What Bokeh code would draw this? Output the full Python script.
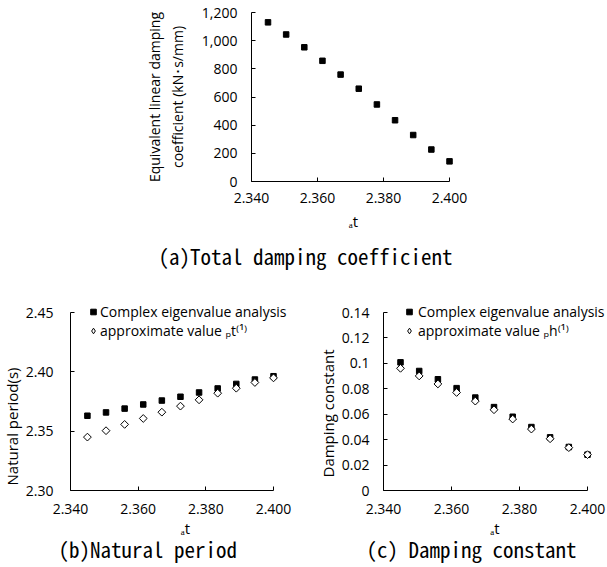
import math
from bokeh.plotting import figure
from bokeh.layouts import column, row
from bokeh.models import FixedTicker, Legend, LegendItem, Title, Range1d
from bokeh.embed import file_html
from bokeh.resources import INLINE

# ---------------- data ----------------
at_values = [2.345, 2.3505, 2.356, 2.3615, 2.367, 2.3725, 2.378, 2.3835, 2.389, 2.3945, 2.400]
total_damping = [1130, 1044, 953, 857, 759, 659, 547, 435, 330, 227, 143]
period_complex = [2.363, 2.3658, 2.369, 2.3725, 2.3758, 2.379, 2.3826, 2.386, 2.3898, 2.3935, 2.3963]
period_approx = [2.345, 2.3504, 2.3557, 2.3607, 2.366, 2.3711, 2.3764, 2.382, 2.3862, 2.391, 2.3949]
damping_complex = [0.1008, 0.0940, 0.0875, 0.0805, 0.0731, 0.0656, 0.0580, 0.0499, 0.0418, 0.0342, 0.0282]
damping_approx = [0.0961, 0.0901, 0.0838, 0.0771, 0.0703, 0.0635, 0.0562, 0.0483, 0.0407, 0.0337, 0.0282]

x_ticks = [2.34, 2.36, 2.38, 2.40]
x_tick_labels = ["2.340", "2.360", "2.380", "2.400"]
a_ticks = [0, 200, 400, 600, 800, 1000, 1200]
a_tick_labels = ["0", "200", "400", "600", "800", "1,000", "1,200"]
b_ticks = [2.30, 2.35, 2.40, 2.45]
b_tick_labels = ["2.30", "2.35", "2.40", "2.45"]
c_ticks = [0, 0.02, 0.04, 0.06, 0.08, 0.10, 0.12, 0.14]
c_tick_labels = ["0", "0.02", "0.04", "0.06", "0.08", "0.1", "0.12", "0.14"]

label_complex = "Complex eigenvalue analysis"
label_approx_t = "approximate value \u209at\u207d\u00b9\u207e"
label_approx_h = "approximate value \u209ah\u207d\u00b9\u207e"
x_label = "\u2090t"

FONT = "Open Sans"
TFONT = "Noto Sans Mono CJK JP"


def padded(lo, hi, axis_px, pad_px):
    # extend range end by pad_px pixels (axis line itself is bounded to lo..hi)
    return Range1d(lo, hi + (hi - lo) * pad_px / axis_px)


def style(p, yticks, ylabels, tick_standoff_x, axis_standoff_x, ytick_standoff):
    p.outline_line_color = None
    p.xgrid.grid_line_color = None
    p.ygrid.grid_line_color = None
    p.background_fill_color = None
    p.border_fill_color = None
    for ax in (p.xaxis[0], p.yaxis[0]):
        ax.axis_line_color = "black"
        ax.axis_line_width = 1
        ax.major_tick_line_color = "black"
        ax.major_tick_in = 4
        ax.major_tick_out = 0
        ax.minor_tick_line_color = None
        ax.major_label_text_font = FONT
        ax.major_label_text_font_size = "14px"
        ax.major_label_text_color = "black"
        ax.axis_label_text_font = FONT
        ax.axis_label_text_font_size = "15px"
        ax.axis_label_text_font_style = "normal"
        ax.axis_label_text_color = "black"
    xa = p.xaxis[0]
    xa.ticker = FixedTicker(ticks=x_ticks)
    xa.major_label_overrides = dict(zip(x_ticks, x_tick_labels))
    xa.bounds = (x_ticks[0], x_ticks[-1])
    xa.axis_label = x_label
    xa.major_label_standoff = tick_standoff_x
    xa.axis_label_standoff = axis_standoff_x
    ya = p.yaxis[0]
    ya.ticker = FixedTicker(ticks=yticks)
    ya.major_label_overrides = dict(zip(yticks, ylabels))
    ya.bounds = (yticks[0], yticks[-1])
    ya.major_label_standoff = ytick_standoff


def add_title(p, text, offset, standoff):
    t = Title(text=text, align="left", vertical_align="top", offset=offset, standoff=standoff,
              text_font=TFONT, text_font_size="21px", text_font_style="normal",
              text_color="black")
    p.add_layout(t, "below")


def add_ylabel(p, text, offset, standoff):
    t = Title(text=text, align="left", vertical_align="middle", offset=offset, standoff=standoff,
              text_font=FONT, text_font_size="15px", text_font_style="normal",
              text_color="black")
    p.add_layout(t, "left")


# ---------------- (a) ----------------
pa = figure(width=607, height=279, output_backend="svg", toolbar_location=None,
            x_range=padded(2.34, 2.40, 198, 6), y_range=Range1d(0, 1200),
            min_border_left=251, min_border_right=152, min_border_top=12, min_border_bottom=96)
pa.scatter(at_values, total_damping, marker="square", size=5.5, fill_color="black", line_color="black")
style(pa, a_ticks, a_tick_labels, 11, 5, 14)
pa.yaxis[0].axis_label = "Equivalent linear damping\ncoefficient (kN\uff65s/mm)"
pa.yaxis[0].axis_label_text_font_size = "14px"
pa.yaxis[0].axis_label_standoff = 12
add_title(pa, "(a)Total damping coefficient", -93, 14)

# ---------------- (b) ----------------
pb = figure(width=312, height=288, output_backend="svg", toolbar_location=None,
            x_range=padded(2.34, 2.40, 203, 27), y_range=padded(2.30, 2.45, 178, 12),
            min_border_left=70, min_border_right=12, min_border_top=21, min_border_bottom=77)
rb1 = pb.scatter(at_values, period_complex, marker="square", size=5.5, fill_color="black", line_color="black")
rb2 = pb.scatter(at_values, period_approx, marker="square", angle=math.pi / 4, size=5.5,
                 fill_color="white", line_color="black", line_width=1)
rb3 = pb.scatter(at_values, period_approx, marker="diamond", size=6,
                 fill_color="white", line_color="black", line_width=1, visible=False)
style(pb, b_ticks, b_tick_labels, 13, 1, 17)
add_ylabel(pb, "Natural period(s)", 5, 0)
add_title(pb, "(b)Natural period", -12, -14)

# ---------------- (c) ----------------
pc = figure(width=295, height=288, output_backend="svg", toolbar_location=None,
            x_range=padded(2.34, 2.40, 204, 19), y_range=padded(0, 0.14, 178, 12),
            min_border_left=71, min_border_right=1, min_border_top=21, min_border_bottom=77)
rc1 = pc.scatter(at_values, damping_complex, marker="square", size=5.5, fill_color="black", line_color="black")
rc2 = pc.scatter(at_values, damping_approx, marker="square", angle=math.pi / 4, size=5.5,
                 fill_color="white", line_color="black", line_width=1)
rc3 = pc.scatter(at_values, damping_approx, marker="diamond", size=6,
                 fill_color="white", line_color="black", line_width=1, visible=False)
style(pc, c_ticks, c_tick_labels, 13, 1, 14)
add_ylabel(pc, "Damping constant", 13, 0)
add_title(pc, "(c) Damping constant", -17, -14)


def add_legend(p, r1, r2, l2, vx, standoff):
    leg = Legend(items=[LegendItem(label=label_complex, renderers=[r1]),
                        LegendItem(label=l2, renderers=[r2])],
                 location=(vx, 150), border_line_color=None, background_fill_alpha=0,
                 padding=0, spacing=0, margin=0, glyph_width=14, glyph_height=19,
                 label_height=19, label_standoff=standoff, inactive_fill_alpha=0,
                 label_text_font=FONT, label_text_font_size="14px", label_text_color="black")
    p.add_layout(leg)


add_legend(pb, rb1, rb3, label_approx_t, 16, 0)
add_legend(pc, rc1, rc3, label_approx_h, 19, 2)

layout = column(pa, row(pb, pc))
open("out.html", "w").write(file_html(layout, INLINE))
